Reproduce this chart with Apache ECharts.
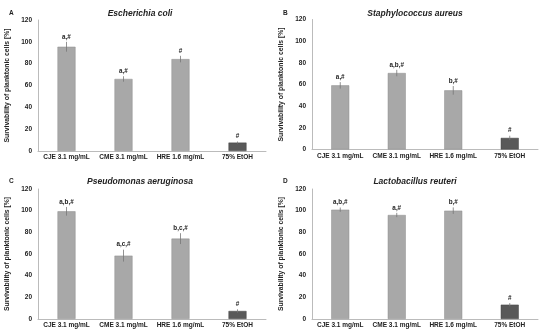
<!DOCTYPE html>
<html><head><meta charset="utf-8">
<script src="https://cdn.jsdelivr.net/npm/echarts@6/dist/echarts.min.js"></script>
<style>html,body{margin:0;padding:0;background:#fff}#c{width:550px;height:336px}</style>
</head><body><div id="c"></div>
<script>
const categories = ['CJE 3.1 mg/mL', 'CME 3.1 mg/mL', 'HRE 1.6 mg/mL', '75% EtOH'];
const panelLetters = ['A', 'B', 'C', 'D'];
const panelTitles = ['Escherichia coli', 'Staphylococcus aureus', 'Pseudomonas aeruginosa', 'Lactobacillus reuteri'];
const yTicks = [0, 20, 40, 60, 80, 100, 120];
const valuesA = [95.5, 66, 84.2, 7.7];
const valuesB = [59.2, 70.6, 54.6, 10.7];
const valuesC = [99.4, 58.5, 74.2, 7.4];
const valuesD = [100.9, 96, 100, 13.2];
const errorsA = [4.5, 2.5, 3, 1];
const errorsB = [3, 3, 4, 2];
const errorsC = [4, 5.5, 5, 1.5];
const errorsD = [2, 2, 3, 1.5];
const lettersA = ['a,#', 'a,#', '#', '#'];
const lettersB = ['a,#', 'a,b,#', 'b,#', '#'];
const lettersC = ['a,b,#', 'a,c,#', 'b,c,#', '#'];
const lettersD = ['a,b,#', 'a,#', 'b,#', '#'];

const values = [valuesA, valuesB, valuesC, valuesD];
const errors = [errorsA, errorsB, errorsC, errorsD];
const letters = [lettersA, lettersB, lettersC, lettersD];

const FONT = 'Liberation Sans';
const grids = [
  {left: 38, top: 20, width: 228, height: 131},
  {left: 312, top: 19.5, width: 226, height: 130},
  {left: 38, top: 189, width: 228, height: 130},
  {left: 312, top: 189, width: 226, height: 130}
];
const titlePos = [[135, 4], [410, 4], [135, 172], [410, 172]];
const letterPos = [[4, 5], [278, 5], [4, 173], [278, 173]];

const option = {
  animation: false,
  title: [], grid: [], xAxis: [], yAxis: [], series: []
};
for (let i = 0; i < 4; i++) {
  option.title.push({
    text: panelTitles[i], left: titlePos[i][0], top: titlePos[i][1], textAlign: 'center',
    textStyle: {fontFamily: FONT, fontSize: 8.5, fontWeight: 'bold', fontStyle: 'italic', color: '#222'}
  });
  option.title.push({
    text: panelLetters[i], left: letterPos[i][0], top: letterPos[i][1],
    textStyle: {fontFamily: FONT, fontSize: 6.5, fontWeight: 'bold', color: '#222'}
  });
  option.grid.push(Object.assign({containLabel: false}, grids[i]));
  option.xAxis.push({
    type: 'category', gridIndex: i, data: categories,
    axisLine: {lineStyle: {color: '#bbb', width: 1}},
    axisTick: {show: false},
    axisLabel: {fontFamily: FONT, fontSize: 6.5, fontWeight: 'bold', color: '#222', margin: 3, interval: 0}
  });
  option.yAxis.push({
    type: 'value', gridIndex: i, min: 0, max: 120, interval: 20,
    name: 'Survivability of planktonic cells [%]', nameLocation: 'middle', nameGap: 27,
    nameTextStyle: {fontFamily: FONT, fontSize: 6.8, fontWeight: 'bold', color: '#222'},
    axisLine: {show: true, lineStyle: {color: '#bbb', width: 1}},
    axisTick: {show: false},
    splitLine: {show: false},
    axisLabel: {fontFamily: FONT, fontSize: 6.5, fontWeight: 'bold', color: '#222', margin: 6,
      formatter: v => yTicks.includes(v) ? String(v) : ''}
  });
  option.series.push({
    type: 'bar', xAxisIndex: i, yAxisIndex: i, barWidth: 18,
    data: values[i].map((v, j) => ({
      value: v,
      itemStyle: j === 3 ? {color: '#595959', borderColor: '#444', borderWidth: 0.5}
                         : {color: '#a8a8a8', borderColor: '#8f8f8f', borderWidth: 0.5}
    }))
  });
  const errData = values[i].map((v, j) => [j, v, errors[i][j], letters[i][j]]);
  option.series.push({
    type: 'custom', xAxisIndex: i, yAxisIndex: i, z: 5,
    data: errData,
    renderItem: function (params, api) {
      const x = api.value(0), v = api.value(1), e = api.value(2);
      const lab = errData[params.dataIndex][3];
      const hi = api.coord([x, v + e]);
      const lo = api.coord([x, v - e]);
      return {
        type: 'group', children: [
          {type: 'line', shape: {x1: hi[0], y1: hi[1], x2: lo[0], y2: lo[1]},
           style: {stroke: '#777', lineWidth: 0.8}},
          {type: 'text', x: hi[0], y: hi[1] - 2,
           style: {text: lab, textAlign: 'center', textVerticalAlign: 'bottom',
             fontFamily: FONT, fontSize: 6.3, fontWeight: 'bold', fill: '#222'}}
        ]
      };
    }
  });
}
const chart = echarts.init(document.getElementById('c'), null, {renderer: 'canvas'});
chart.setOption(option);
</script>
</body></html>
